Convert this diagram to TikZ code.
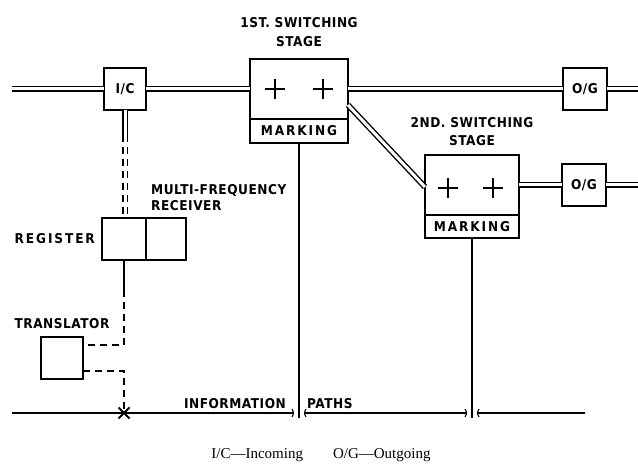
\documentclass[tikz,border=0pt]{standalone}
\usepackage{fontspec}
\usetikzlibrary{positioning,calc,shapes.misc}
\newfontfamily\stencil{DejaVu Sans Condensed}[LetterSpace=4]
\newfontfamily\captfont{Liberation Serif}

\tikzset{
  box/.style={draw, line width=1.7pt, inner sep=0pt, outer sep=0pt},
  lbl/.style={font=\stencil\bfseries\fontsize{13.5}{16}\selectfont, inner sep=0pt},
  widelbl/.style={lbl, font=\stencil\bfseries\fontsize{13.5}{16}\selectfont\addfontfeature{LetterSpace=14}},
  trunk/.style={double, double distance=3pt, line width=1.4pt},
  sig/.style={line width=1.6pt},
  sigdash/.style={line width=1.6pt, dash pattern=on 7pt off 5pt},
  plusmark/.pic={\draw[line width=1.4pt] (-10,0) -- (10,0) (0,-10) -- (0,10);}
}

\begin{document}
\begin{tikzpicture}[x=1pt,y=-1pt]
\useasboundingbox (0,0) rectangle (638,465);

% --- SPEECH PATH UNITS ---
\node[box, lbl, minimum width=42, minimum height=42] (ic) at (125,89) {I/C};
\node[box, minimum width=98, minimum height=60] (stageA) at (299,89) {};
\node[box, widelbl, minimum width=98, minimum height=24, below=0pt of stageA] (markA) {MARKING};
\node[box, lbl, minimum width=44, minimum height=42] (ogA) at (585,89) {O/G};
\node[box, minimum width=94, minimum height=60] (stageB) at (472,185) {};
\node[box, widelbl, minimum width=94, minimum height=23, below=0pt of stageB] (markB) {MARKING};
\node[box, lbl, minimum width=44, minimum height=42] (ogB) at (584,185) {O/G};

\pic at ([xshift=-24]stageA.center) {plusmark};
\pic at ([xshift=24]stageA.center) {plusmark};
\pic at ([xshift=-24,yshift=-3]stageB.center) {plusmark};
\pic at ([xshift=21,yshift=-3]stageB.center) {plusmark};

\node[lbl, align=center, above=12pt of stageA] (titleA) {1ST. SWITCHING\\[3pt]STAGE};
\node[lbl, align=center, above=9pt of stageB] (titleB) {2ND. SWITCHING\\[2pt]STAGE};

% --- CONTROL UNITS ---
\node[box, minimum width=44, minimum height=42] (reg) at (124,239) {};
\node[box, minimum width=40, minimum height=42, right=0pt of reg] (mfr) {};
\node[widelbl, left=7pt of reg] (regLbl) {REGISTER};
\node[lbl, align=left, anchor=south west] (mfrLbl) at (151,211) {MULTI-FREQUENCY\\RECEIVER};
\node[box, minimum width=42, minimum height=42] (trans) at (62,358) {};
\node[lbl, above=8pt of trans] (transLbl) {TRANSLATOR};

% --- TRUNKS ---
\coordinate (inA) at (12,89);
\coordinate (outA) at (638,89);
\coordinate (outB) at (638,185);
\draw[trunk] (inA) -- (ic.west);
\draw[trunk] (ic.east) -- (stageA.west);
\draw[trunk] (stageA.east) -- (ogA.west);
\draw[trunk] (ogA.east) -- (outA);
\draw[trunk] ([yshift=-16]stageA.east) -- ([yshift=-2]stageB.west);
\draw[trunk] (stageB.east) -- (ogB.west);
\draw[trunk] (ogB.east) -- (outB);

% --- REGISTER ACCESS ---
\coordinate (icDrop) at ($(ic.south)+(0,25)$);
\draw[trunk] (ic.south) -- (icDrop);
\draw[trunk, dash pattern=on 7pt off 5pt] (icDrop) -- (icDrop |- reg.north);

\coordinate (regDrop) at ($(reg.south)+(0,30)$);
\draw[sig] (reg.south) -- (regDrop);
\draw[sigdash] (regDrop) |- ([yshift=13]trans.east);

% --- INFORMATION PATHS ---
\coordinate (infoL) at (12,413);
\coordinate (infoR) at (585,413);
\coordinate (hopA) at (markA.south |- infoL);
\coordinate (hopB) at (markB.south |- infoL);
\node[draw, cross out, line width=2pt, minimum size=9, inner sep=0pt] (xmk) at (reg.south |- infoL) {};
\draw[sigdash] ([yshift=-13]trans.east) -| (xmk.center);

\draw[line width=1.2pt] (infoL) -- ([xshift=-6]hopA) ([xshift=6]hopA) -- ([xshift=-6]hopB)
  ([xshift=6]hopB) -- (infoR);
\foreach \h in {hopA,hopB} {
  \draw[line width=1.1pt] ([xshift=-7,yshift=4]\h) .. controls ([xshift=-5]\h) .. ([xshift=-7,yshift=-4]\h);
  \draw[line width=1.1pt] ([xshift=7,yshift=4]\h) .. controls ([xshift=5]\h) .. ([xshift=7,yshift=-4]\h);
}
\draw[sig] (markA.south) -- ([yshift=-5]hopA);
\draw[sig] (markB.south) -- ([yshift=-5]hopB);

\node[lbl, anchor=south east] (infoLbl) at (286,409) {INFORMATION};
\node[lbl, anchor=south west] (pathLbl) at (307,409) {PATHS};

% --- KEY ---
\node[font=\captfont\fontsize{15}{15}\selectfont, inner sep=0pt] (key) at (321,455)
  {I/C—Incoming\hspace{2em}O/G—Outgoing};

\end{tikzpicture}
\end{document}
